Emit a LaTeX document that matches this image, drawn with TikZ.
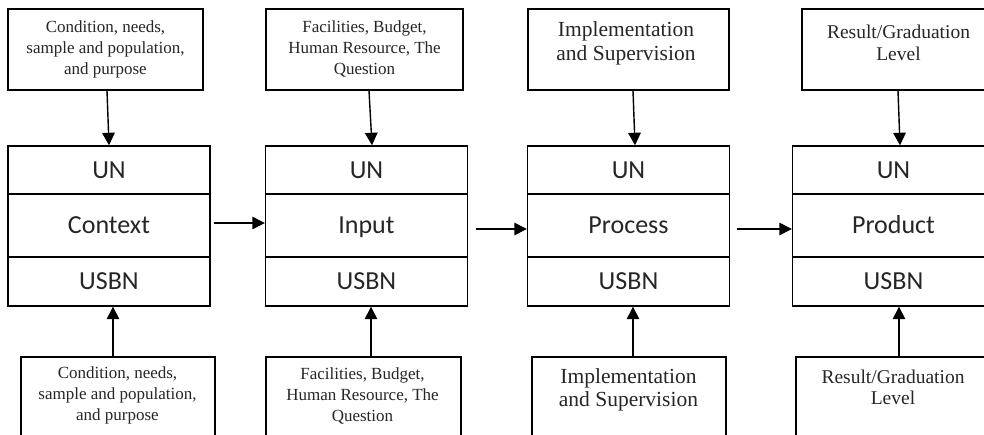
\documentclass[tikz,border=0pt]{standalone}
\usepackage{fontspec}
\setmainfont{Liberation Serif}
\newfontfamily\calib{Carlito}
\usetikzlibrary{arrows.meta}
\begin{document}
\begin{tikzpicture}[x=1pt,y=-1pt,
  box/.style={draw, line width=1.4pt, inner sep=0pt},
  lbl/.style={font=\calib\fontsize{26}{30}\selectfont, inner sep=0pt, text=black!85, text height=17pt, text depth=0pt},
  unbox/.style={box, lbl, minimum width=202pt, minimum height=48pt},
  midbox/.style={box, lbl, minimum width=202pt, minimum height=63pt},
  usbox/.style={box, lbl, minimum width=202pt, minimum height=49pt},
  topbox/.style={box, minimum width=196pt, minimum height=81pt},
  botbox/.style={box, minimum width=195pt, minimum height=93pt},
  smalltxt/.style={align=center, inner sep=0pt, text=black!85, font=\fontsize{17}{21}\selectfont},
  implt/.style={align=center, inner sep=0pt, text=black!85, font=\fontsize{21.5}{23.5}\selectfont},
  rest/.style={align=center, inner sep=0pt, text=black!85, font=\fontsize{19.5}{21.5}\selectfont},
  arr/.style={line width=1.4pt, -{Triangle[length=12.5pt,width=12.5pt]}}
]
\clip (0,0) rectangle (984,435);
\fill[white] (0,0) rectangle (984,435);

% main columns
\node[unbox]  (u1) at (109,170)   {UN};
\node[midbox] (m1) at (109,225.5) {Context};
\node[usbox]  (s1) at (109,281.5) {USBN};
\node[unbox]  (u2) at (366.5,170)   {UN};
\node[midbox] (m2) at (366.5,225.5) {Input};
\node[usbox]  (s2) at (366.5,281.5) {USBN};
\node[unbox]  (u3) at (628.5,170)   {UN};
\node[midbox] (m3) at (628.5,225.5) {Process};
\node[usbox]  (s3) at (628.5,281.5) {USBN};
\node[unbox]  (u4) at (893.5,170)   {UN};
\node[midbox] (m4) at (893.5,225.5) {Product};
\node[usbox]  (s4) at (893.5,281.5) {USBN};

% top boxes
\node[topbox, minimum width=195pt] (t1) at (105.5,49.5) {};
\node[topbox, minimum width=197pt] (t2) at (364.5,49.5) {};
\node[topbox, minimum width=201pt] (t3) at (628.5,49.5) {};
\node[topbox, minimum width=197pt] (t4) at (900.5,49.5) {};
\node[smalltxt] (tt1) at (105.5,49) {Condition, needs,\\sample and population,\\and purpose};
\node[smalltxt] (tt2) at (364.5,49) {Facilities, Budget,\\Human Resource, The\\Question};
\node[implt] (tt3) at (626,43.5) {Implementation\\and Supervision};
\node[rest] (tt4) at (898.5,43) {Result/Graduation\\Level};

% bottom boxes
\node[botbox, minimum width=194pt] (b1) at (118,403.5) {};
\node[botbox, minimum width=195pt] (b2) at (363.5,403.5) {};
\node[botbox, minimum width=194pt] (b3) at (629,403.5) {};
\node[botbox, minimum width=194pt] (b4) at (893,403.5) {};
\node[smalltxt] (bt1) at (117.5,395.5) {Condition, needs,\\sample and population,\\and purpose};
\node[smalltxt] (bt2) at (362.5,395.5) {Facilities, Budget,\\Human Resource, The\\Question};
\node[implt] (bt3) at (628.5,390) {Implementation\\and Supervision};
\node[rest] (bt4) at (893,387.5) {Result/Graduation\\Level};

% vertical arrows from top
\draw[arr] ([xshift=1.5pt]t1.south) -- (u1.north);
\draw[arr] ([xshift=4.5pt]t2.south) -- ([xshift=5.5pt]u2.north);
\draw[arr] ([xshift=4.5pt]t3.south) -- ([xshift=6.5pt]u3.north);
\draw[arr] ([xshift=-2.5pt]t4.south) -- ([xshift=6.5pt]u4.north);

% vertical arrows from bottom
\draw[arr] ([xshift=-5pt]b1.north) -- ([xshift=4pt]s1.south);
\draw[arr] ([xshift=7.5pt]b2.north) -- ([xshift=4.5pt]s2.south);
\draw[arr] ([xshift=4pt]b3.north) -- ([xshift=4.5pt]s3.south);
\draw[arr] ([xshift=6pt]b4.north) -- ([xshift=5.5pt]s4.south);

% horizontal arrows
\draw[arr] ([xshift=3pt,yshift=2.5pt]m1.east) -- ([yshift=2.5pt]m2.west);
\draw[arr] ([xshift=8pt,yshift=-3.5pt]m2.east) -- ([yshift=-3.5pt]m3.west);
\draw[arr] ([xshift=7pt,yshift=-3.5pt]m3.east) -- ([yshift=-3.5pt]m4.west);
\end{tikzpicture}
\end{document}
